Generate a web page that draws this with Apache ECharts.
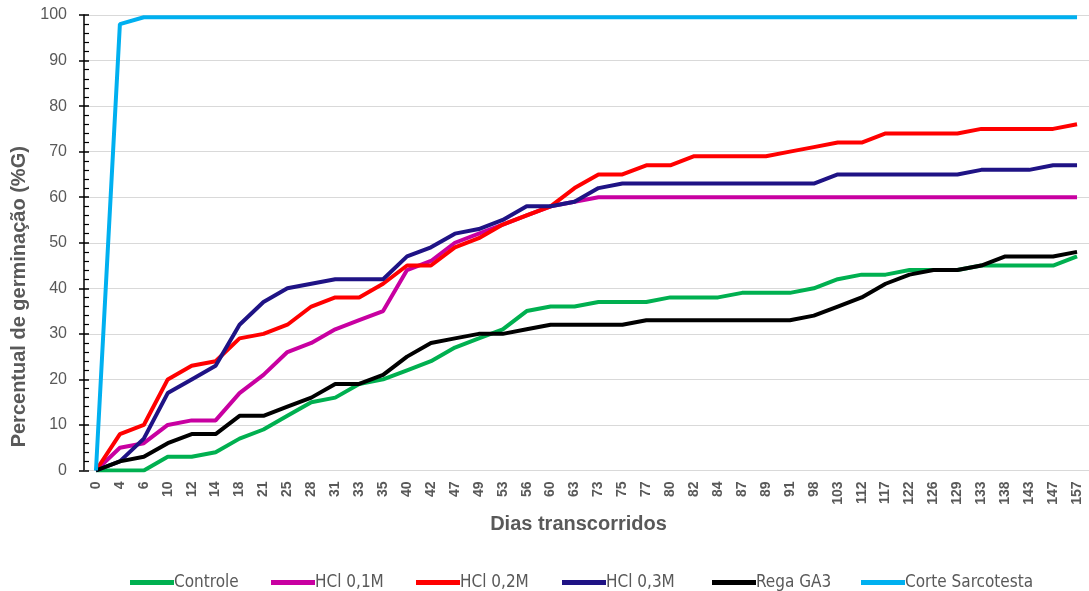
<!DOCTYPE html>
<html><head><meta charset="utf-8">
<script src="https://cdn.jsdelivr.net/npm/echarts@6/dist/echarts.min.js"></script>
<style>html,body{margin:0;padding:0;background:#fff}#c{width:1089px;height:591px}</style>
</head><body><div id="c"></div>
<script>
var categories = [0,4,6,10,12,14,18,21,25,28,31,33,35,40,42,47,49,53,56,60,63,73,75,77,80,82,84,87,89,91,98,103,112,117,122,126,129,133,138,143,147,157];
var controle = [0,0,0,3,3,4,7,9,12,15,16,19,20,22,24,27,29,31,35,36,36,37,37,37,38,38,38,39,39,39,40,42,43,43,44,44,44,45,45,45,45,47];
var hcl01 = [0,5,6,10,11,11,17,21,26,28,31,33,35,44,46,50,52,54,56,58,59,60,60,60,60,60,60,60,60,60,60,60,60,60,60,60,60,60,60,60,60,60];
var hcl02 = [0,8,10,20,23,24,29,30,32,36,38,38,41,45,45,49,51,54,56,58,62,65,65,67,67,69,69,69,69,70,71,72,72,74,74,74,74,75,75,75,75,76];
var hcl03 = [0,2,7,17,20,23,32,37,40,41,42,42,42,47,49,52,53,55,58,58,59,62,63,63,63,63,63,63,63,63,63,65,65,65,65,65,65,66,66,66,67,67];
var regaGA3 = [0,2,3,6,8,8,12,12,14,16,19,19,21,25,28,29,30,30,31,32,32,32,32,33,33,33,33,33,33,33,34,36,38,41,43,44,44,45,47,47,47,48];
var corte = [0,98,99.5,99.5,99.5,99.5,99.5,99.5,99.5,99.5,99.5,99.5,99.5,99.5,99.5,99.5,99.5,99.5,99.5,99.5,99.5,99.5,99.5,99.5,99.5,99.5,99.5,99.5,99.5,99.5,99.5,99.5,99.5,99.5,99.5,99.5,99.5,99.5,99.5,99.5,99.5,99.5];
var yTicks = {min:0, max:100, interval:10};

var names = ['Controle','HCl 0,1M','HCl 0,2M','HCl 0,3M','Rega GA3','Corte Sarcotesta'];
var colors = ['#00B050','#C800A1','#FF0000','#1F1385','#000000','#00B0F0'];
var datas = [controle,hcl01,hcl02,hcl03,regaGA3,corte];
var legendLeft = [125,266,411,557,707,856];

var chart = echarts.init(document.getElementById('c'));
chart.setOption({
  animation:false,
  backgroundColor:'#fff',
  grid:{left:84,right:-6,top:15,bottom:120.5,containLabel:false},
  legend:names.map(function(n,i){
    return {data:[n], top:569, left:legendLeft[i], icon:'rect', itemWidth:44, itemHeight:5,
      textStyle:{color:'#595959',fontSize:17,fontFamily:'DejaVu Sans Condensed, Liberation Sans Narrow, sans-serif',padding:[0,0,0,-5]}};
  }),
  xAxis:{
    type:'category', data:categories, boundaryGap:true,
    name:'Dias transcorridos', nameLocation:'middle', nameGap:44,
    nameTextStyle:{color:'#595959',fontSize:20,fontWeight:'bold',fontFamily:'Liberation Sans, Arial, sans-serif',padding:[0,16,0,0]},
    axisLine:{lineStyle:{color:'#d9d9d9',width:1}},
    axisTick:{show:false},
    axisLabel:{interval:0,rotate:90,color:'#595959',fontSize:14,fontWeight:'bold',fontFamily:'Liberation Sans, Arial, sans-serif',margin:11},
    splitLine:{show:false}
  },
  yAxis:[{
    type:'value', min:yTicks.min, max:yTicks.max, interval:yTicks.interval,
    name:'Percentual de germinação (%G)', nameLocation:'middle', nameGap:52,
    nameTextStyle:{color:'#595959',fontSize:20,fontWeight:'bold',fontFamily:'Liberation Sans, Arial, sans-serif',padding:[0,108,0,0]},
    axisLine:{show:true,lineStyle:{color:'#000',width:1.5}},
    axisTick:{show:true,inside:true,length:5,lineStyle:{color:'#000',width:1.5}},
    minorTick:{show:true,splitNumber:5,length:5,lineStyle:{color:'#000',width:1.2}},
    axisLabel:{color:'#595959',fontSize:16,fontFamily:'Liberation Sans, Arial, sans-serif',margin:17},
    splitLine:{show:true,lineStyle:{color:'#d9d9d9',width:1.2}}
  },{
    type:'value', min:yTicks.min, max:yTicks.max, interval:yTicks.interval, position:'left',
    axisLine:{show:false},
    axisTick:{show:true,inside:false,length:5,lineStyle:{color:'#000',width:1.5}},
    axisLabel:{show:false}, splitLine:{show:false}
  }],
  series:names.map(function(n,i){
    return {name:n,type:'line',data:datas[i],symbol:'none',smooth:false,
      lineStyle:{color:colors[i],width:4},itemStyle:{color:colors[i]},z:2+i};
  })
});
</script></body></html>
